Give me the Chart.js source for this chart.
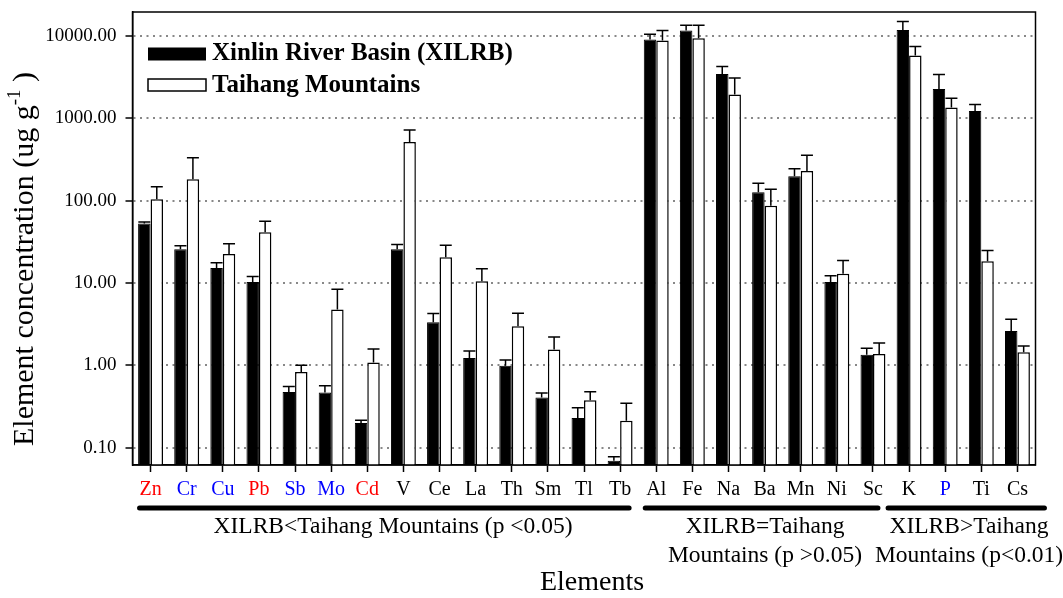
<!DOCTYPE html>
<html>
<head>
<meta charset="utf-8">
<script src="https://cdn.jsdelivr.net/npm/chart.js@4.4.1/dist/chart.umd.min.js"></script>
<style>
  html, body { margin: 0; padding: 0; background: #fff; }
  #wrap { width: 1063px; height: 598px; }
</style>
</head>
<body>
<div id="wrap"><canvas id="chart" width="1063" height="598"></canvas></div>
<script>
// values (ug/g), error bars are +SD
const elements = ['Zn', 'Cr', 'Cu', 'Pb', 'Sb', 'Mo', 'Cd', 'V', 'Ce', 'La', 'Th', 'Sm', 'Tl', 'Tb',
                  'Al', 'Fe', 'Na', 'Ba', 'Mn', 'Ni', 'Sc', 'K', 'P', 'Ti', 'Cs'];
const xilrbMean = [53, 25.8, 15.3, 10.3, 0.478, 0.47, 0.201, 25.8, 3.35, 1.23, 0.99, 0.41, 0.231, 0.070,
                   9020, 11590, 3460, 127, 198, 10.3, 1.35, 11830, 2275, 1230, 2.63];
const xilrbSd = [2, 2.5, 2.4, 1.7, 0.077, 0.096, 0.016, 3.6, 0.92, 0.27, 0.18, 0.055, 0.077, 0.008,
                 1460, 1900, 780, 36, 47, 2.0, 0.27, 3090, 1115, 236, 1.02];
const taihangMean = [104, 182, 22.6, 41.5, 0.836, 4.77, 1.09, 517, 20.6, 10.5, 3.0, 1.56, 0.379, 0.213,
                     8770, 9380, 1940, 87, 230, 13.0, 1.38, 5770, 1350, 18.4, 1.45];
const taihangSd = [44, 151, 7.5, 14.9, 0.17, 3.66, 0.5, 206, 8.2, 4.4, 1.31, 0.66, 0.10, 0.135,
                   2820, 4110, 1150, 51, 127, 5.8, 0.5, 1650, 404, 6.4, 0.28];
const yTicks = [0.1, 1, 10, 100, 1000, 10000];

const seriesNames = ['Xinlin River Basin (XILRB)', 'Taihang Mountains'];
const groupRanges = [[0, 13], [14, 20], [21, 24]];
const groupLabels = [
    ['XILRB<Taihang Mountains (p <0.05)'],
    ['XILRB=Taihang', 'Mountains (p >0.05)'],
    ['XILRB>Taihang', 'Mountains (p<0.01)']
];

// styling
const FONT = "'Liberation Serif', 'Times New Roman', serif";
const RED = '#ff0000', BLUE = '#0000ff';
const tickColours = [RED, BLUE, BLUE, RED, BLUE, BLUE, RED, '#000', '#000', '#000', '#000', '#000', '#000', '#000',
                     '#000', '#000', '#000', '#000', '#000', '#000', '#000', '#000', BLUE, '#000', '#000'];
const groupLineExtents = [[-11, 9], [-11, 5], [-21, 27]];
const groupTextX = [393, 765, 969];

const extras = {
    id: 'extras',
    afterDatasetsDraw(chart) {
        const {ctx, scales: {y}} = chart;
        ctx.save();
        ctx.strokeStyle = '#000';
        ctx.lineWidth = 1.5;
        [xilrbSd, taihangSd].forEach((sd, i) => {
            const means = chart.data.datasets[i].data;
            chart.getDatasetMeta(i).data.forEach((bar, j) => {
                const top = y.getPixelForValue(means[j] + sd[j]);
                ctx.beginPath();
                ctx.moveTo(bar.x, bar.y);
                ctx.lineTo(bar.x, top);
                ctx.moveTo(bar.x - 6, top);
                ctx.lineTo(bar.x + 6, top);
                ctx.stroke();
            });
        });
        ctx.restore();
    },
    afterDraw(chart) {
        const {ctx, chartArea: a, scales: {x}} = chart;
        ctx.save();

        // frame
        ctx.strokeStyle = '#000';
        ctx.lineWidth = 1.5;
        ctx.strokeRect(a.left, a.top, a.right - a.left, a.bottom - a.top);

        // legend
        ctx.font = 'bold 25px ' + FONT;
        ctx.textBaseline = 'middle';
        ctx.textAlign = 'left';
        ctx.fillStyle = '#000';
        ctx.fillRect(148, 47.5, 58, 13);
        ctx.fillText(seriesNames[0], 212, 54);
        ctx.fillStyle = '#fff';
        ctx.fillRect(148, 79, 58, 12);
        ctx.strokeRect(148, 79, 58, 12);
        ctx.fillStyle = '#000';
        ctx.fillText(seriesNames[1], 212, 86);

        // group brackets
        ctx.lineWidth = 5;
        ctx.lineCap = 'round';
        ctx.font = '23.5px ' + FONT;
        ctx.textAlign = 'center';
        groupRanges.forEach((r, i) => {
            ctx.beginPath();
            ctx.moveTo(x.getPixelForValue(r[0]) + groupLineExtents[i][0], 508);
            ctx.lineTo(x.getPixelForValue(r[1]) + groupLineExtents[i][1], 508);
            ctx.stroke();
            groupLabels[i].forEach((t, k) => ctx.fillText(t, groupTextX[i], 527 + k * 29));
        });

        // x title
        ctx.font = '28px ' + FONT;
        ctx.fillText('Elements', 592, 583);

        // y title with superscript
        ctx.translate(33, 259);
        ctx.rotate(-Math.PI / 2);
        ctx.textBaseline = 'alphabetic';
        ctx.textAlign = 'left';
        const main = 'Element concentration (ug g', sup = '-1', tail = ' )';
        const big = '30px ' + FONT, small = '19px ' + FONT;
        ctx.font = big;
        const w1 = ctx.measureText(main).width, w3 = ctx.measureText(tail).width;
        ctx.font = small;
        const w2 = ctx.measureText(sup).width;
        let px = -(w1 + w2 + w3) / 2;
        ctx.font = big;
        ctx.fillText(main, px, 0);
        px += w1;
        ctx.font = small;
        ctx.fillText(sup, px, -13);
        px += w2;
        ctx.font = big;
        ctx.fillText(tail, px, 0);

        ctx.restore();
    }
};

new Chart(document.getElementById('chart'), {
    type: 'bar',
    data: {
        labels: elements,
        datasets: [{
            label: seriesNames[0],
            data: xilrbMean,
            backgroundColor: '#000',
            borderColor: '#000',
            borderWidth: 1
        }, {
            label: seriesNames[1],
            data: taihangMean,
            backgroundColor: '#fff',
            borderColor: '#000',
            borderWidth: 1.5
        }]
    },
    options: {
        responsive: false,
        animation: false,
        devicePixelRatio: 1,
        layout: { padding: { left: 0, right: 27.5, top: 12, bottom: 0 } },
        datasets: { bar: { categoryPercentage: 0.69, barPercentage: 1.0 } },
        plugins: { legend: { display: false }, tooltip: { enabled: false } },
        scales: {
            x: {
                offset: true,
                afterFit: s => { s.height = 133; s.paddingLeft = 0; s.paddingRight = 0; },
                grid: { drawOnChartArea: false, offset: false, tickLength: 7, tickColor: '#000', tickWidth: 1.5 },
                border: { color: '#000', width: 1.5 },
                ticks: {
                    autoSkip: false, maxRotation: 0, padding: 6,
                    font: { family: FONT, size: 20 },
                    color: c => tickColours[c.index]
                }
            },
            y: {
                type: 'logarithmic',
                min: 0.062,
                max: 19500,
                afterFit: s => { s.width = 132.5; s.paddingTop = 0; s.paddingBottom = 0; },
                afterBuildTicks: s => { s.ticks = yTicks.map(v => ({ value: v })); },
                grid: { color: '#888', lineWidth: 2, tickLength: 7, tickColor: '#000', tickWidth: 1.5, tickBorderDash: [] },
                border: { color: '#000', width: 1.5, dash: [2, 4.5] },
                ticks: {
                    padding: 9,
                    font: { family: FONT, size: 19 },
                    color: '#000',
                    callback: v => Number(v).toFixed(2)
                }
            }
        }
    },
    plugins: [extras]
});
</script>
</body>
</html>
